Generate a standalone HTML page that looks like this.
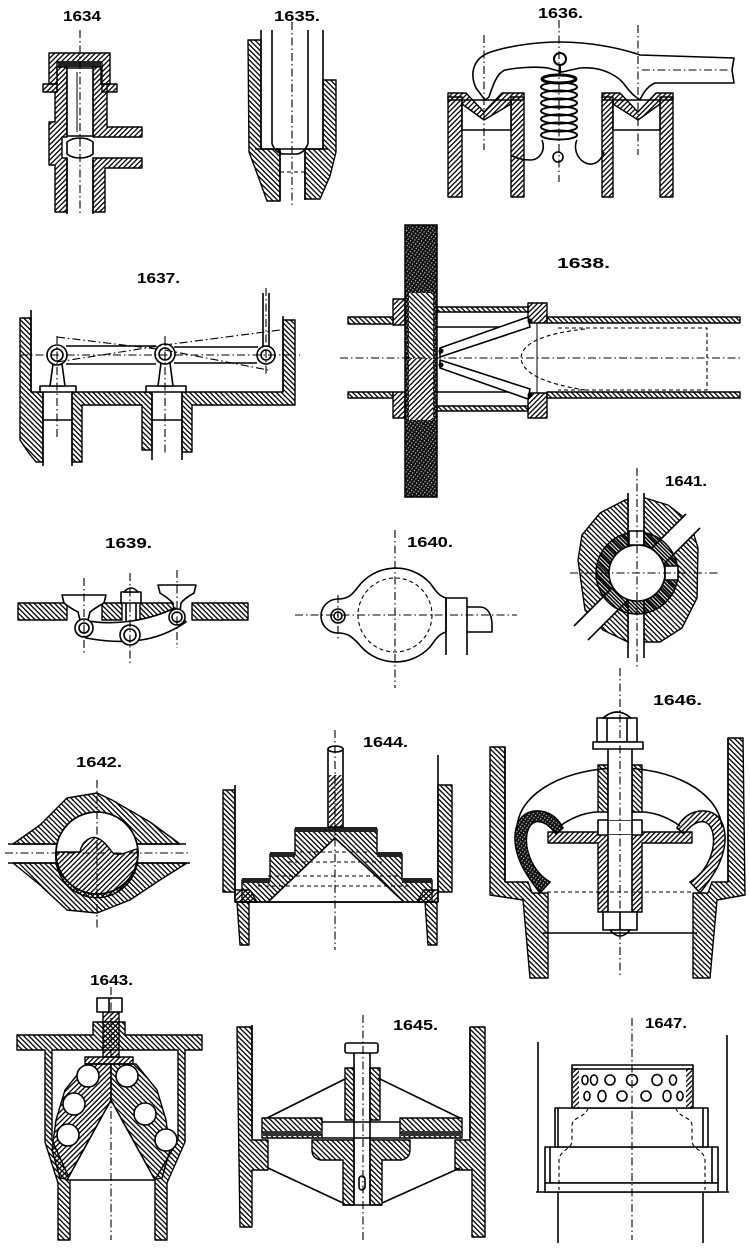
<!DOCTYPE html>
<html><head><meta charset="utf-8"><style>
html,body{margin:0;padding:0;background:#fff;}
svg{display:block}
text{font-family:"Liberation Sans",sans-serif;font-weight:bold;font-size:15px;fill:#000}
.o{fill:none;stroke:#000;stroke-width:1.6;stroke-linejoin:round}
.w{fill:#fff;stroke:#000;stroke-width:1.6;stroke-linejoin:round}
.ha{fill:url(#a);stroke:#000;stroke-width:1.4;stroke-linejoin:round}
.hb{fill:url(#b);stroke:#000;stroke-width:1.4;stroke-linejoin:round}
.hd{fill:url(#d);stroke:#000;stroke-width:1.4}
.cl{fill:none;stroke:#000;stroke-width:1.1;stroke-dasharray:8 3 1.5 3}
.ds{fill:none;stroke:#000;stroke-width:1.1;stroke-dasharray:4 3}
</style></head><body>
<svg width="750" height="1257" viewBox="0 0 750 1257" xmlns="http://www.w3.org/2000/svg">
<defs>
<pattern id="a" width="3.6" height="3.6" patternUnits="userSpaceOnUse" patternTransform="rotate(45)"><rect width="1.3" height="3.6" fill="#000"/></pattern>
<pattern id="b" width="3.6" height="3.6" patternUnits="userSpaceOnUse" patternTransform="rotate(-45)"><rect width="1.3" height="3.6" fill="#000"/></pattern>
<pattern id="d" width="3" height="3" patternUnits="userSpaceOnUse" patternTransform="rotate(35)"><rect width="3" height="3" fill="#111"/><rect width="0.8" height="1.4" fill="#fff"/></pattern>
<pattern id="e" width="2.6" height="2.6" patternUnits="userSpaceOnUse" patternTransform="rotate(-45)"><rect width="1.5" height="2.6" fill="#000"/></pattern>
</defs>
<rect width="750" height="1257" fill="#fff"/>

<!-- labels -->
<text x="63" y="21" textLength="38" lengthAdjust="spacingAndGlyphs">1634</text>
<text x="274" y="21" textLength="46" lengthAdjust="spacingAndGlyphs">1635.</text>
<text x="538" y="18" textLength="45" lengthAdjust="spacingAndGlyphs">1636.</text>
<text x="137" y="283" textLength="43" lengthAdjust="spacingAndGlyphs">1637.</text>
<text x="557" y="268" textLength="53" lengthAdjust="spacingAndGlyphs">1638.</text>
<text x="665" y="486" textLength="42" lengthAdjust="spacingAndGlyphs">1641.</text>
<text x="105" y="548" textLength="47" lengthAdjust="spacingAndGlyphs">1639.</text>
<text x="407" y="547" textLength="46" lengthAdjust="spacingAndGlyphs">1640.</text>
<text x="76" y="767" textLength="46" lengthAdjust="spacingAndGlyphs">1642.</text>
<text x="363" y="747" textLength="45" lengthAdjust="spacingAndGlyphs">1644.</text>
<text x="653" y="705" textLength="49" lengthAdjust="spacingAndGlyphs">1646.</text>
<text x="90" y="985" textLength="43" lengthAdjust="spacingAndGlyphs">1643.</text>
<text x="393" y="1030" textLength="45" lengthAdjust="spacingAndGlyphs">1645.</text>
<text x="645" y="1028" textLength="42" lengthAdjust="spacingAndGlyphs">1647.</text>

<!-- 1634 -->
<path class="ha" d="M49 53H110V84H102V62H57V84H49Z"/>
<rect class="ha" x="43" y="84" width="14" height="8"/>
<rect class="ha" x="102" y="84" width="15" height="8"/>
<rect x="58" y="61" width="43" height="6" fill="#222"/>
<path class="ha" d="M57 67H67V137H62V158H67V212H55V165H49V122H55V92H57Z"/>
<path class="ha" d="M93 67H101V84H107V127H142V137H93Z"/>
<path class="ha" d="M93 158H142V168H105V212H93Z"/>
<rect class="w" x="67" y="68" width="26" height="68"/>
<line x1="77" y1="72" x2="77" y2="132" stroke="#000" stroke-width="1"/>
<path class="w" d="M67 142Q72 138 80 138Q88 138 93 142V154Q88 158 80 158Q72 158 67 154Z"/>
<line class="o" x1="67" y1="158" x2="67" y2="214"/>
<line class="o" x1="93" y1="158" x2="93" y2="214"/>
<line class="cl" x1="80" y1="30" x2="80" y2="214"/>

<!-- 1635 -->
<path class="hb" d="M248 40H261V149H280V201H267L258 176L249 152Z"/>
<path class="hb" d="M323 80H336V152L330 176L320 199H305V149H323Z"/>
<line class="o" x1="261" y1="30" x2="261" y2="149"/>
<line class="o" x1="323" y1="30" x2="323" y2="149"/>
<line class="o" x1="272" y1="30" x2="272" y2="144"/>
<line class="o" x1="308" y1="30" x2="308" y2="144"/>
<path class="o" d="M272 144Q276 153 283 154H297Q304 153 308 144"/>
<line class="o" x1="255" y1="149" x2="328" y2="149"/>
<line class="ds" x1="280" y1="172" x2="305" y2="172"/>
<line class="o" x1="280" y1="149" x2="280" y2="201"/>
<line class="o" x1="305" y1="149" x2="305" y2="200"/>
<line class="cl" x1="292" y1="22" x2="292" y2="205"/>

<!-- 1636 -->
<rect class="ha" x="448" y="97" width="14" height="100"/>
<rect class="ha" x="511" y="97" width="13" height="100"/>
<rect class="w" x="462" y="100" width="49" height="30"/>
<path class="ha" d="M448 93H466L484 112L502 93H524V100H511V104L484 120L462 104V100H448Z"/>
<rect class="ha" x="602" y="97" width="11" height="100"/>
<rect class="ha" x="660" y="97" width="13" height="100"/>
<rect class="w" x="613" y="100" width="47" height="30"/>
<path class="ha" d="M602 93H620L638 112L656 93H673V100H660V104L638 120L613 104V100H602Z"/>
<path class="w" stroke-width="2" d="M485 100L476 88C470 75 472 60 488 53C510 45 540 42 560 42C590 42 620 48 640 55L734 58L732 70L734 83L655 83C648 86 643 93 640 100L636 97C628 92 625 82 615 76C605 70 595 67 580 68L562 72L548 68C535 66 515 68 505 70C497 73 493 85 489 97Z"/>
<line class="cl" x1="642" y1="70" x2="730" y2="70"/>
<circle cx="560" cy="59" r="6" fill="#fff" stroke="#000" stroke-width="2"/>
<line x1="560" y1="65" x2="560" y2="76" stroke="#000" stroke-width="2"/>
<g fill="none" stroke="#000" stroke-width="2">
<ellipse cx="559" cy="79" rx="17" ry="4" stroke-width="3"/>
<ellipse cx="559" cy="87" rx="18" ry="4.5"/>
<ellipse cx="559" cy="95" rx="18" ry="4.5"/>
<ellipse cx="559" cy="103" rx="18" ry="4.5"/>
<ellipse cx="559" cy="111" rx="18" ry="4.5"/>
<ellipse cx="559" cy="119" rx="18" ry="4.5"/>
<ellipse cx="559" cy="127" rx="18" ry="4.5"/>
<ellipse cx="559" cy="135" rx="18" ry="4.5"/>
</g>
<path class="o" d="M542 140C546 150 540 160 530 160C522 160 517 158 512 156"/>
<path class="o" d="M577 140C572 150 580 165 592 164C598 163 602 158 604 152"/>
<circle cx="558" cy="157" r="5" class="w"/>
<line class="cl" x1="484" y1="35" x2="484" y2="150"/>
<line class="cl" x1="559" y1="20" x2="559" y2="182"/>
<line class="cl" x1="638" y1="25" x2="638" y2="155"/>

<!-- 1637 -->
<path class="hb" d="M20 318H31V392H43V462H36L28 452L20 440Z"/>
<path class="hb" d="M72 392H152V450H142V405H82V462H72Z"/>
<path class="hb" d="M182 392H283V320H295V405H192V452H182Z"/>
<line class="o" x1="31" y1="310" x2="31" y2="392"/>
<line class="o" x1="283" y1="316" x2="283" y2="392"/>
<line class="o" x1="43" y1="392" x2="43" y2="466"/>
<line class="o" x1="72" y1="392" x2="72" y2="466"/>
<line class="o" x1="152" y1="392" x2="152" y2="460"/>
<line class="o" x1="182" y1="392" x2="182" y2="460"/>
<line class="o" x1="43" y1="420" x2="72" y2="420"/>
<line class="o" x1="152" y1="420" x2="182" y2="420"/>
<rect class="w" x="40" y="386" width="36" height="6"/>
<rect class="w" x="146" y="386" width="40" height="6"/>
<path class="w" d="M50 386L53 364H62L65 386Z"/>
<path class="w" d="M158 386L161 363H170L173 386Z"/>
<path class="o" d="M66 346H156M174 347H258M66 364H156M174 363H257"/>
<circle cx="57" cy="355" r="10" class="w" stroke-width="2"/>
<circle cx="57" cy="355" r="6" class="o"/>
<circle cx="165" cy="354" r="10" class="w" stroke-width="2"/>
<circle cx="165" cy="354" r="6" class="o"/>
<circle cx="266" cy="355" r="9" class="w" stroke-width="2"/>
<circle cx="266" cy="355" r="5" class="o"/>
<path class="o" d="M263 293V346M269 293V346"/>
<line class="cl" x1="20" y1="355" x2="300" y2="355"/>
<path class="cl" d="M57 337L165 350L268 370"/>
<path class="cl" d="M57 362L165 345L280 330"/>
<line class="cl" x1="57" y1="336" x2="57" y2="440"/>
<line class="cl" x1="165" y1="336" x2="165" y2="455"/>
<line class="cl" x1="266" y1="288" x2="266" y2="376"/>

<!-- 1638 -->
<rect x="405" y="225" width="32" height="272" fill="url(#d)" stroke="#000" stroke-width="1.5"/>
<rect x="409" y="293" width="24" height="65" fill="#fff"/>
<rect x="409" y="293" width="24" height="65" fill="url(#b)"/>
<rect x="409" y="358" width="24" height="62" fill="#fff"/>
<rect x="409" y="358" width="24" height="62" fill="url(#a)"/>
<rect class="ha" x="393" y="299" width="12" height="26"/>
<rect class="ha" x="393" y="392" width="12" height="26"/>
<rect class="hb" x="348" y="317" width="45" height="7"/>
<rect class="hb" x="348" y="392" width="45" height="6"/>
<rect class="hb" x="437" y="307" width="91" height="5"/>
<rect class="hb" x="437" y="406" width="91" height="5"/>
<line class="o" x1="437" y1="327" x2="528" y2="327"/>
<line class="o" x1="437" y1="392" x2="528" y2="392"/>
<rect class="ha" x="528" y="303" width="19" height="20"/>
<rect class="ha" x="528" y="393" width="19" height="25"/>
<rect class="hb" x="547" y="317" width="193" height="6"/>
<rect class="hb" x="547" y="392" width="193" height="6"/>
<path class="ds" stroke-width="1.4" d="M558 328H707V390H558"/>
<path class="ds" d="M585 329Q522 336 521 358Q522 380 585 390"/>
<line x1="537" y1="323" x2="537" y2="393" stroke="#000" stroke-width="1"/>
<polygon class="w" points="440,348 528,317 530,327 440,357"/>
<polygon class="w" points="440,360 530,389 528,399 440,368"/>
<g fill="#000"><circle cx="441" cy="351" r="2.5"/><circle cx="441" cy="365" r="2.5"/><circle cx="530" cy="321" r="2.5"/><circle cx="530" cy="395" r="2.5"/></g>
<line class="cl" x1="340" y1="358" x2="740" y2="358"/>

<!-- 1639 -->
<rect class="hb" x="18" y="603" width="49" height="17"/>
<rect class="hb" x="102" y="603" width="20" height="17"/>
<rect class="hb" x="140" y="603" width="34" height="17"/>
<rect class="hb" x="192" y="603" width="56" height="17"/>
<path class="w" d="M62 595H106L104 603Q95 608 90 612L88 620H80L78 612Q70 608 64 603Z"/>
<path class="w" d="M158 585H196L194 593Q185 598 181 603L180 612H174L173 603Q168 598 160 593Z"/>
<path class="w" d="M121 603V592H141V603Z"/>
<path class="w" d="M124 592Q131 584 138 592Z"/>
<path class="o" d="M126 603V627M136 603V627"/>
<path class="w" d="M84 620C110 626 145 622 175 608L186 622C160 640 130 646 86 638Z"/>
<circle cx="84" cy="628" r="9" class="w" stroke-width="2"/><circle cx="84" cy="628" r="5" class="o"/>
<circle cx="130" cy="635" r="10" class="w" stroke-width="2"/><circle cx="130" cy="635" r="6" class="o"/>
<circle cx="177" cy="617" r="8" class="w" stroke-width="2"/><circle cx="177" cy="617" r="5" class="o"/>
<line class="cl" x1="84" y1="578" x2="84" y2="655"/>
<line class="cl" x1="130" y1="573" x2="130" y2="665"/>
<line class="cl" x1="177" y1="570" x2="177" y2="648"/>

<!-- 1640 -->
<path class="w" stroke-width="2" d="M446 598C438 596 434 588 430 583A47 47 0 0 0 358 587C352 595 348 599 338 599A17 17 0 1 0 338 633C348 633 352 637 358 643A47 47 0 0 0 430 647C434 642 438 634 446 632Z"/>
<circle cx="395" cy="615" r="37" class="ds" stroke-width="1.5"/>
<circle cx="338" cy="616" r="7" class="o"/>
<circle cx="338" cy="616" r="4" class="o" stroke-width="1"/>
<path class="o" d="M446 655V598H467V655"/>
<path class="o" d="M467 607H480C488 607 492 615 492 625V632H467"/>
<line class="cl" x1="395" y1="530" x2="395" y2="688"/>
<line class="cl" x1="295" y1="615" x2="517" y2="615"/>
<line class="cl" x1="338" y1="595" x2="338" y2="640"/>

<!-- 1641 -->
<path class="hb" d="M578 560L582 535L600 513L625 500L645 498L668 505L690 522L698 548L697 598L682 628L660 642L628 642L603 630L585 610Z"/>
<polygon fill="#fff" points="574,626 686,514 700,528 588,640"/>
<path class="o" d="M574 626L686 514M588 640L700 528"/>
<rect x="629" y="490" width="15" height="170" fill="#fff"/>
<circle cx="637" cy="573" r="41" fill="url(#e)" stroke="#000" stroke-width="1.5"/>
<circle cx="637" cy="573" r="28" class="w"/>
<rect x="629" y="531" width="15" height="14" class="w"/>
<rect x="665" y="566" width="13" height="14" class="w"/>
<path class="o" d="M628 493V545M644 493V545M628 601V658M644 601V658"/>
<line class="cl" x1="637" y1="468" x2="637" y2="668"/>
<line class="cl" x1="570" y1="573" x2="720" y2="573"/>

<!-- 1642 -->
<path class="hb" d="M13 844L40 825L67 798L97 793L112 800L150 822L180 844Z"/>
<path class="hb" d="M13 863L40 885L67 910L97 913L130 900L160 880L187 863Z"/>
<circle cx="97" cy="853" r="41" class="w"/>
<path class="ha" d="M56 852L80 852C82 840 92 836 97 838C104 840 110 850 113 853C120 857 128 851 137 849A41 41 0 1 1 56 852Z"/>
<circle cx="97" cy="853" r="41" class="o" stroke-width="2"/>
<path class="o" d="M8 844H56M137 844H186M8 863H56M137 863H190"/>
<line class="cl" x1="97" y1="780" x2="97" y2="930"/>
<line class="cl" x1="5" y1="853" x2="190" y2="853"/>

<!-- 1644 -->
<path class="hb" d="M223 790H235V892H223Z"/>
<path class="hb" d="M237 902H249V945H240Z"/>
<path class="hb" d="M438 785H452V892H438Z"/>
<path class="hb" d="M425 902H437V945H428Z"/>
<path class="ha" d="M235 890H250L257 902H235Z"/>
<path class="ha" d="M438 890H424L417 902H438Z"/>
<line class="o" x1="235" y1="785" x2="235" y2="902"/>
<line class="o" x1="438" y1="755" x2="438" y2="902"/>
<path class="hb" d="M242 902V880H270V854H295V829H377V854H402V880H432V902Z"/>
<rect x="242" y="878" width="28" height="5" fill="#222"/>
<rect x="402" y="878" width="30" height="5" fill="#222"/>
<rect x="270" y="852" width="25" height="5" fill="#222"/>
<rect x="377" y="852" width="25" height="5" fill="#222"/>
<rect x="295" y="827" width="82" height="5" fill="#222"/>
<path class="w" d="M268 902L335 838L404 902Z"/>
<path class="ds" d="M300 852H370M288 862H382M268 876H402M258 886H412"/>
<line class="o" x1="235" y1="902" x2="438" y2="902"/>
<rect class="w" x="328" y="749" width="15" height="78"/>
<rect x="329" y="775" width="13" height="52" fill="url(#a)"/>
<ellipse cx="335.5" cy="749" rx="7.5" ry="3" class="w"/>
<line class="cl" x1="335" y1="730" x2="335" y2="950"/>

<!-- 1646 -->
<path class="hb" d="M490 747H505V882H528L532 893H548V978H530L523 900L490 895Z"/>
<path class="hb" d="M743 738H728V882H712L708 893H693V978H710L717 900L745 895Z"/>
<path class="o" d="M505 747V882M728 738V882"/>
<path class="o" d="M517 827C520 790 570 768 620 768C670 768 718 790 722 827"/>
<path fill="url(#d)" stroke="#000" stroke-width="1.5" d="M540 893C530 880 514 860 515 836C516 815 530 808 545 812C555 815 560 822 563 828L556 834C550 826 543 820 535 822C526 826 525 840 528 852C532 866 540 876 550 882Z"/>
<path fill="url(#a)" stroke="#000" stroke-width="1.5" d="M700 893C710 880 726 860 725 836C724 815 710 808 695 812C685 815 680 822 677 828L684 834C690 826 697 820 705 822C714 826 715 840 712 852C708 866 700 876 690 882Z"/>
<path class="o" d="M560 826C575 815 590 812 598 812M642 812C650 812 665 815 680 826"/>
<path class="ha" d="M548 832H692V843H642V912H598V843H548Z"/>
<rect class="hb" x="598" y="765" width="10" height="47"/>
<rect class="hb" x="632" y="765" width="10" height="47"/>
<rect class="w" x="598" y="820" width="44" height="15"/>
<rect x="608" y="749" width="24" height="71" fill="#fff"/>
<rect x="608" y="835" width="24" height="77" fill="#fff"/>
<path class="o" d="M608 749V912M632 749V912"/>
<rect class="w" x="597" y="718" width="40" height="24"/>
<path class="o" d="M607 718V742M627 718V742"/>
<path class="w" d="M603 718Q617 706 631 718Z"/>
<rect class="w" x="593" y="742" width="50" height="7"/>
<rect class="w" x="603" y="912" width="34" height="18"/>
<path class="o" d="M620 912V930"/>
<path class="w" d="M610 930Q620 942 630 930Z"/>
<line class="o" x1="543" y1="933" x2="697" y2="933"/>
<line class="ds" x1="547" y1="892" x2="693" y2="892"/>
<line class="cl" x1="620" y1="668" x2="620" y2="975"/>

<!-- 1643 -->
<path class="hb" d="M17 1035H93V1022H125V1035H202V1050H185V1142L167 1183V1240H155V1180L178 1140V1050H52V1140L70 1180V1240H58V1183L45 1142V1050H17Z"/>
<rect class="ha" x="85" y="1057" width="48" height="7"/>
<path class="ha" d="M86 1064H111V1100L70 1180L60 1178L52 1150L56 1120L65 1090Z"/>
<path class="hb" d="M136 1064H111V1100L152 1180L162 1178L170 1150L166 1120L157 1090Z"/>
<path class="w" d="M111 1100L67 1180H155Z"/>
<g class="w" stroke-width="1.8">
<circle cx="88" cy="1076" r="11"/><circle cx="74" cy="1104" r="11"/><circle cx="68" cy="1135" r="11"/>
<circle cx="127" cy="1076" r="11"/><circle cx="145" cy="1114" r="11"/><circle cx="166" cy="1140" r="11"/>
</g>
<rect x="103" y="1012" width="16" height="45" fill="url(#a)" stroke="#000" stroke-width="1.4"/>
<rect class="w" x="97" y="998" width="25" height="14"/>
<line class="o" x1="109" y1="998" x2="109" y2="1012"/>
<line class="cl" x1="111" y1="987" x2="111" y2="1240"/>

<!-- 1645 -->
<path class="hb" d="M237 1027H252V1140H268V1170H252V1227H240Z"/>
<path class="hb" d="M470 1027H485V1237H472V1170H455V1140H470Z"/>
<path class="o" d="M252 1025V1138M470 1027V1138"/>
<rect class="hb" x="262" y="1118" width="60" height="20"/>
<rect class="hb" x="400" y="1118" width="62" height="20"/>
<rect x="263" y="1131" width="58" height="5" fill="#333"/>
<rect x="401" y="1131" width="60" height="5" fill="#333"/>
<path class="o" d="M322 1122H400M322 1138H400"/>
<path class="o" d="M347 1078L267 1118M378 1078L460 1118M268 1168L343 1203M460 1168L382 1203"/>
<path class="hb" d="M312 1140H354V1205H343V1160H320Q312 1158 312 1150Z"/>
<path class="hb" d="M370 1140H410V1150Q410 1158 402 1160H382V1205H370Z"/>
<rect class="hb" x="345" y="1068" width="9" height="52"/>
<rect class="hb" x="370" y="1068" width="10" height="52"/>
<path class="o" d="M354 1053V1205M370 1053V1205M343 1205H382"/>
<rect class="w" x="345" y="1043" width="33" height="10" rx="2"/>
<rect class="w" x="359" y="1176" width="6" height="14" rx="3"/>
<line class="cl" x1="363" y1="1015" x2="363" y2="1240"/>

<!-- 1647 -->
<line class="o" x1="538" y1="1042" x2="538" y2="1192"/>
<line class="o" x1="727" y1="1035" x2="727" y2="1192"/>
<line class="o" x1="536" y1="1192" x2="729" y2="1192"/>
<line class="o" x1="558" y1="1192" x2="558" y2="1243"/>
<line class="o" x1="703" y1="1192" x2="703" y2="1243"/>
<rect class="w" x="545" y="1147" width="173" height="36"/>
<rect class="w" x="545" y="1183" width="173" height="9"/>
<rect class="w" x="555" y="1108" width="153" height="39"/>
<rect class="w" x="572" y="1065" width="121" height="43"/>
<rect fill="url(#a)" x="573" y="1068" width="6" height="40"/>
<rect fill="url(#a)" x="686" y="1068" width="6" height="40"/>
<line class="o" x1="572" y1="1069" x2="693" y2="1069"/>
<path class="o" d="M550 1147V1183M558 1108V1147M703 1108V1147M712 1147V1183"/>
<g class="o" stroke-width="1.5">
<ellipse cx="585" cy="1080" rx="3" ry="4.5"/><ellipse cx="594" cy="1080" rx="3.5" ry="5"/>
<ellipse cx="610" cy="1080" rx="5" ry="5"/><circle cx="632" cy="1080" r="5.5"/>
<ellipse cx="657" cy="1080" rx="5" ry="5.5"/><ellipse cx="673" cy="1080" rx="3.5" ry="5"/>
<ellipse cx="587" cy="1096" rx="3" ry="4.5"/><ellipse cx="602" cy="1096" rx="4" ry="5.5"/>
<ellipse cx="622" cy="1096" rx="5" ry="5"/><ellipse cx="646" cy="1096" rx="5" ry="5"/>
<ellipse cx="667" cy="1096" rx="4" ry="5.5"/><ellipse cx="680" cy="1096" rx="3" ry="4.5"/>
</g>
<path class="ds" d="M588 1108C586 1118 572 1116 572 1126V1142C570 1150 560 1150 559 1160V1190"/>
<path class="ds" d="M676 1108C678 1118 692 1116 692 1126V1142C694 1150 704 1150 705 1160V1190"/>
<line class="cl" x1="632" y1="1018" x2="632" y2="1240"/>
</svg>
</body></html>
